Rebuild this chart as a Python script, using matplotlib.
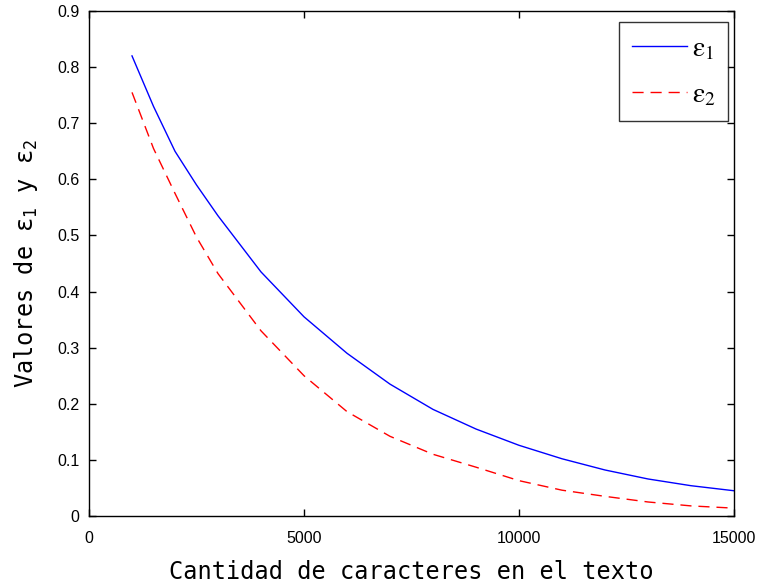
import matplotlib
matplotlib.use("Agg")
import matplotlib.pyplot as plt

chars = [1000, 1500, 2000, 2500, 3000, 4000, 5000, 6000, 7000, 8000, 9000,
         10000, 11000, 12000, 13000, 14000, 15000]
eps1 = [0.82, 0.73, 0.65, 0.59, 0.535, 0.435, 0.355, 0.29, 0.235, 0.19, 0.155,
        0.126, 0.102, 0.082, 0.066, 0.054, 0.045]
eps2 = [0.755, 0.655, 0.575, 0.497, 0.432, 0.33, 0.25, 0.186, 0.142, 0.11, 0.087,
        0.063, 0.046, 0.035, 0.025, 0.018, 0.014]

xticks = [0, 5000, 10000, 15000]
yticks = [0, 0.1, 0.2, 0.3, 0.4, 0.5, 0.6, 0.7, 0.8, 0.9]

plt.rcParams['mathtext.fontset'] = 'stix'
plt.rcParams['mathtext.rm'] = 'DejaVu Sans Mono'
plt.rcParams['mathtext.it'] = 'DejaVu Sans Mono'
plt.rcParams['mathtext.bf'] = 'DejaVu Sans Mono'

fig = plt.figure(figsize=(7.62, 5.88), dpi=100)
ax = fig.add_axes([89/762, 72/588, 645/762, 505/588])

ax.plot(chars, eps1, color='#0000ff', lw=1.0, label=r'$\mathrm{\varepsilon}_1$')
ax.plot(chars, eps2, color='#ff0000', lw=1.0, ls=(0, (8, 5)), label=r'$\mathrm{\varepsilon}_2$')

ax.set_xlim(0, 15000)
ax.set_ylim(0, 0.9)
ax.set_xticks(xticks)
ax.set_xticklabels([str(v) for v in xticks], family='Liberation Sans')
ax.set_yticks(yticks)
ax.set_yticklabels(['0'] + [f'{v:.1f}' for v in yticks[1:]], family='Liberation Sans')
ax.tick_params(direction='in', length=5, width=1, labelsize=11.5, top=True, right=True,
               pad=7)
ax.tick_params(axis='x', pad=11)
for s in ax.spines.values():
    s.set_linewidth(1.0)

ax.set_xlabel('Cantidad de caracteres en el texto', family=['DejaVu Sans Mono', 'DejaVu Sans'],
              fontsize=17, labelpad=10)
ax.set_ylabel(r'Valores de $\mathrm{ε}_1$ y $\mathrm{ε}_2$',
              family=['DejaVu Sans Mono', 'DejaVu Sans'], math_fontfamily='custom',
              fontsize=17, labelpad=12)

leg = ax.legend(loc='upper right', bbox_to_anchor=(1.0, 0.99),
                prop={'size': 20, 'math_fontfamily': 'stix'},
                frameon=True, fancybox=False, edgecolor='black', handlelength=2.0,
                borderpad=0.45, labelspacing=0.65, handletextpad=0.18, borderaxespad=0.2)
leg.get_frame().set_linewidth(1.0)

fig.savefig('out.png', dpi=100, facecolor='white')
